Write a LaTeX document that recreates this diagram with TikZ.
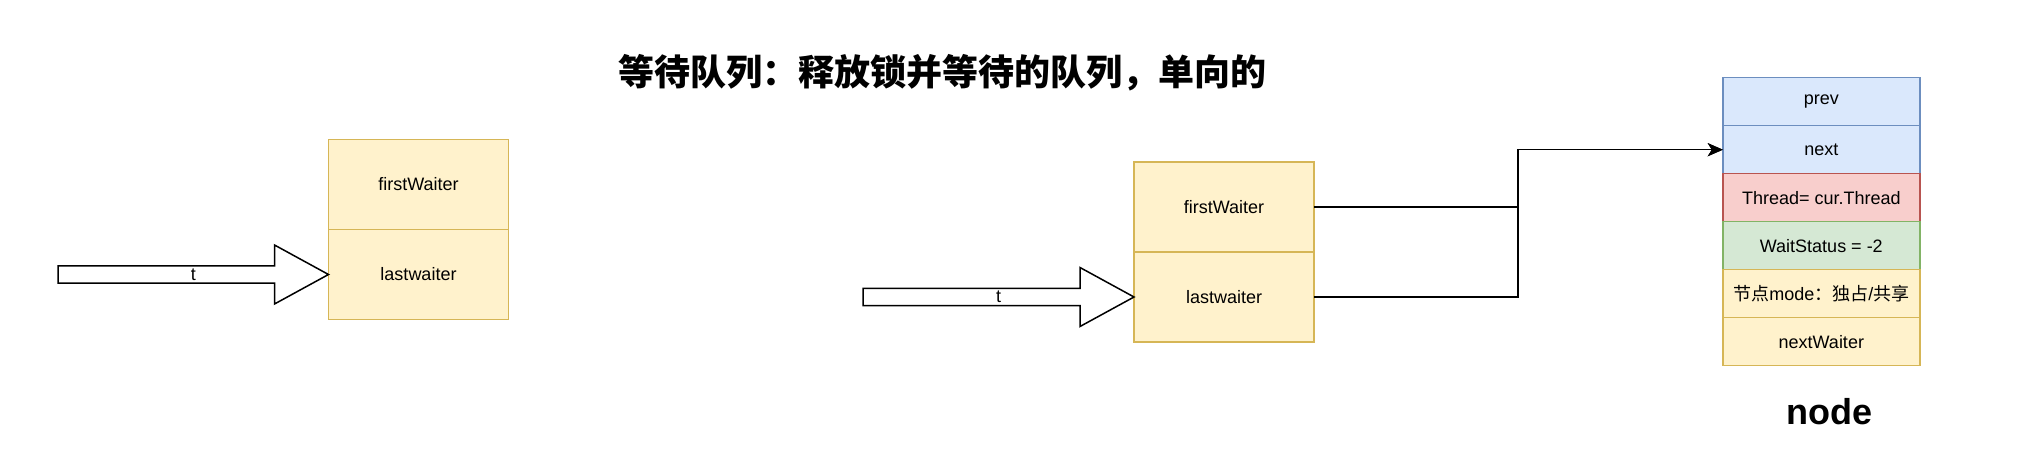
\documentclass[tikz,border=0pt]{standalone}
\usepackage{fontspec}
\setmainfont{Liberation Sans}
\newfontfamily\cjk{Noto Sans CJK SC}
\usepackage{tikz}
\usetikzlibrary{calc, positioning, arrows.meta}
\definecolor{waitfill}{HTML}{FFF2CC}
\definecolor{waitline}{HTML}{D6B656}
\definecolor{linkfill}{HTML}{DAE8FC}
\definecolor{linkline}{HTML}{6C8EBF}
\definecolor{thrfill}{HTML}{F8CECC}
\definecolor{thrline}{HTML}{B85450}
\definecolor{statfill}{HTML}{D5E8D4}
\definecolor{statline}{HTML}{82B366}

\tikzset{
    cell/.style={draw=waitline, fill=waitfill, line width=1.5pt, outer sep=0pt, inner sep=0pt,
        minimum width=180pt, minimum height=90pt, font=\fontsize{18}{22}\selectfont},
    field/.style={cell, minimum width=197pt, minimum height=48pt},
    link/.style={draw=black, line width=1.5pt, -{Stealth[length=15pt, width=13pt, inset=4pt]}},
    fat/.style={draw=black, fill=white, line width=1.5pt, line join=miter},
}

\begin{document}
\begin{tikzpicture}[x=1pt, y=-1pt]
    \useasboundingbox (0,0) rectangle (2044,476);
    % title
    \node[font=\cjk\bfseries\fontsize{36}{40}\selectfont] (title) at (942.5,73)
        {等待队列：释放锁并等待的队列，单向的};
    % condition queue, empty and with one waiter
    \node[cell] (fw1) at (418.5,184.5) {firstWaiter};
    \node[cell, below=0pt of fw1] (lw1) {lastwaiter};
    \node[cell] (fw2) at (1224,207) {firstWaiter};
    \node[cell, below=0pt of fw2] (lw2) {lastwaiter};
    % the waiter node
    \node[field, draw=linkline, fill=linkfill] (pv) at (1821.3,101.7) {prev};
    \node[field, draw=linkline, fill=linkfill, below=0pt of pv] (nx) {next};
    \node[field, draw=thrline, fill=thrfill, below=0pt of nx] (th) {Thread= cur.Thread};
    \node[field, draw=statline, fill=statfill, below=0pt of th] (ws) {WaitStatus = -2};
    \node[field, below=0pt of ws] (md) {{\cjk 节点}mode{\cjk ：独占}/{\cjk 共享}};
    \node[field, below=0pt of md] (nw) {nextWaiter};
    \node[font=\fontsize{36}{40}\selectfont\bfseries] (lbl) at (1829,412) {node};
    % thread arrows
    \coordinate (t1) at (58,274.5);
    \coordinate (t2) at (863,297);
    \foreach \src/\dst in {t1/lw1, t2/lw2} {
        \draw[fat] ($(\src)+(0,-8.7)$) -- ($(\dst.west)+(-54,-8.7)$) -- ($(\dst.west)+(-54,-29.5)$)
            -- (\dst.west) -- ($(\dst.west)+(-54,29.5)$) -- ($(\dst.west)+(-54,8.7)$)
            -- ($(\src)+(0,8.7)$) -- cycle;
        \node[font=\fontsize{18}{22}\selectfont] at ($(\src)!0.5!(\dst.west)$) {t};
    }
    % pointers into the node
    \coordinate (bend) at (1518,0);
    \draw[link] (fw2.east) -- (fw2.east -| bend) |- (nx.west);
    \draw[link] (lw2.east) -- (lw2.east -| bend) |- (nx.west);
\end{tikzpicture}
\end{document}
